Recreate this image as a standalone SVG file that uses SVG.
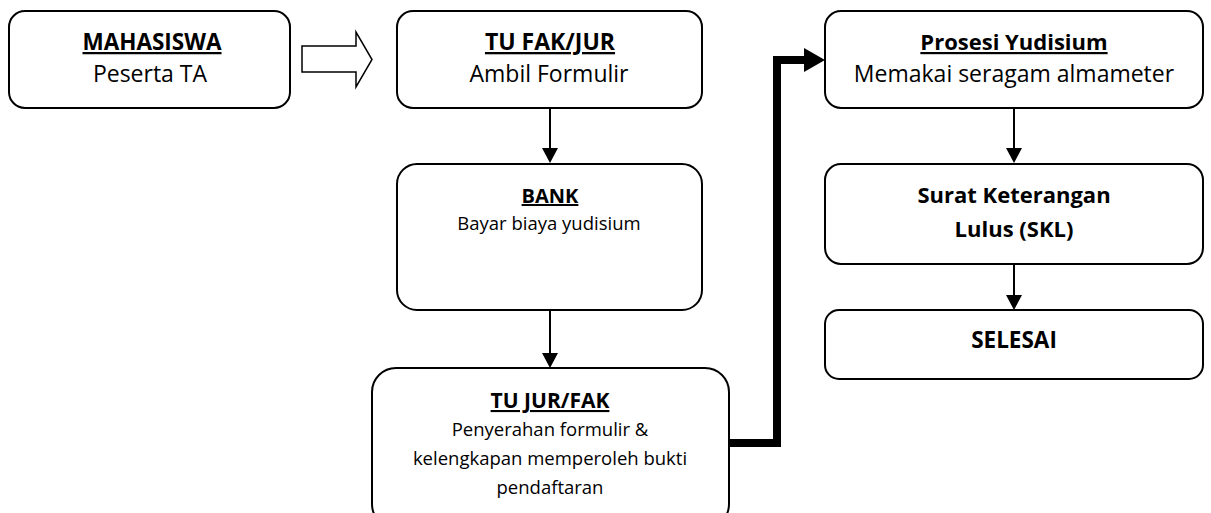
<svg xmlns="http://www.w3.org/2000/svg" width="1211" height="513" viewBox="0 0 1211 513">
  <style>
    .box { fill: #fff; stroke: #000; stroke-width: 2; }
    .t { font-family: "Open Sans", "Liberation Sans", sans-serif; fill: #000; text-anchor: middle; }
    .b { font-weight: bold; }
    .u { text-decoration: underline; }
    .link { fill: none; stroke: #000; stroke-width: 2; }
    .thick { fill: none; stroke: #000; stroke-width: 8; }
  </style>
  <rect width="1211" height="513" fill="#fff"/>

  <!-- connectors -->
  <g id="connectors">
    <path d="M302,46 H356 V32 L372,59.5 L356,87 V72 H302 Z" fill="#fff" stroke="#000" stroke-width="1.5"/>
    <line class="link" x1="550" y1="108" x2="550" y2="148"/>
    <path d="M542,148 L558,148 L550,163 Z" fill="#000"/>
    <line class="link" x1="550" y1="310" x2="550" y2="353"/>
    <path d="M542,353 L558,353 L550,368 Z" fill="#000"/>
    <path class="thick" d="M729,443 H777 V60 H806"/>
    <path d="M804,48 L825,60 L804,72 Z" fill="#000"/>
    <line class="link" x1="1014" y1="108" x2="1014" y2="148"/>
    <path d="M1006,148 L1022,148 L1014,163 Z" fill="#000"/>
    <line class="link" x1="1014" y1="264" x2="1014" y2="295"/>
    <path d="M1006,295 L1022,295 L1014,310 Z" fill="#000"/>
  </g>

  <g id="mahasiswa">
    <rect class="box" x="9" y="11" width="281" height="97" rx="16"/>
    <text class="t b u" x="152" y="50" font-size="22.5">MAHASISWA</text>
    <text class="t" x="150" y="82" font-size="23">Peserta TA</text>
  </g>

  <g id="tu-fak-jur">
    <rect class="box" x="397" y="11" width="305" height="97" rx="16"/>
    <text class="t b u" x="550" y="50" font-size="23">TU FAK/JUR</text>
    <text class="t" x="549" y="82" font-size="23">Ambil Formulir</text>
  </g>

  <g id="bank">
    <rect class="box" x="397" y="164" width="305" height="146" rx="20"/>
    <text class="t b u" x="550" y="203" font-size="20">BANK</text>
    <text class="t" x="549" y="230" font-size="18.5">Bayar biaya yudisium</text>
  </g>

  <g id="tu-jur-fak">
    <rect class="box" x="372" y="368" width="357" height="160" rx="24"/>
    <text class="t b u" x="550" y="408" font-size="21">TU JUR/FAK</text>
    <text class="t" x="550" y="436" font-size="18.5">Penyerahan formulir &amp;</text>
    <text class="t" x="550" y="465" font-size="18.5">kelengkapan memperoleh bukti</text>
    <text class="t" x="550" y="494" font-size="18.5">pendaftaran</text>
  </g>

  <g id="prosesi-yudisium">
    <rect class="box" x="825" y="11" width="378" height="97" rx="16"/>
    <text class="t b u" x="1014" y="50" font-size="22">Prosesi Yudisium</text>
    <text class="t" x="1014" y="82" font-size="23">Memakai seragam almameter</text>
  </g>

  <g id="skl">
    <rect class="box" x="825" y="164" width="378" height="100" rx="16"/>
    <text class="t b" x="1014" y="203" font-size="22">Surat Keterangan</text>
    <text class="t b" x="1014" y="237" font-size="22">Lulus (SKL)</text>
  </g>

  <g id="selesai">
    <rect class="box" x="825" y="310" width="378" height="69" rx="14"/>
    <text class="t b" x="1014" y="348" font-size="22.5">SELESAI</text>
  </g>
</svg>
